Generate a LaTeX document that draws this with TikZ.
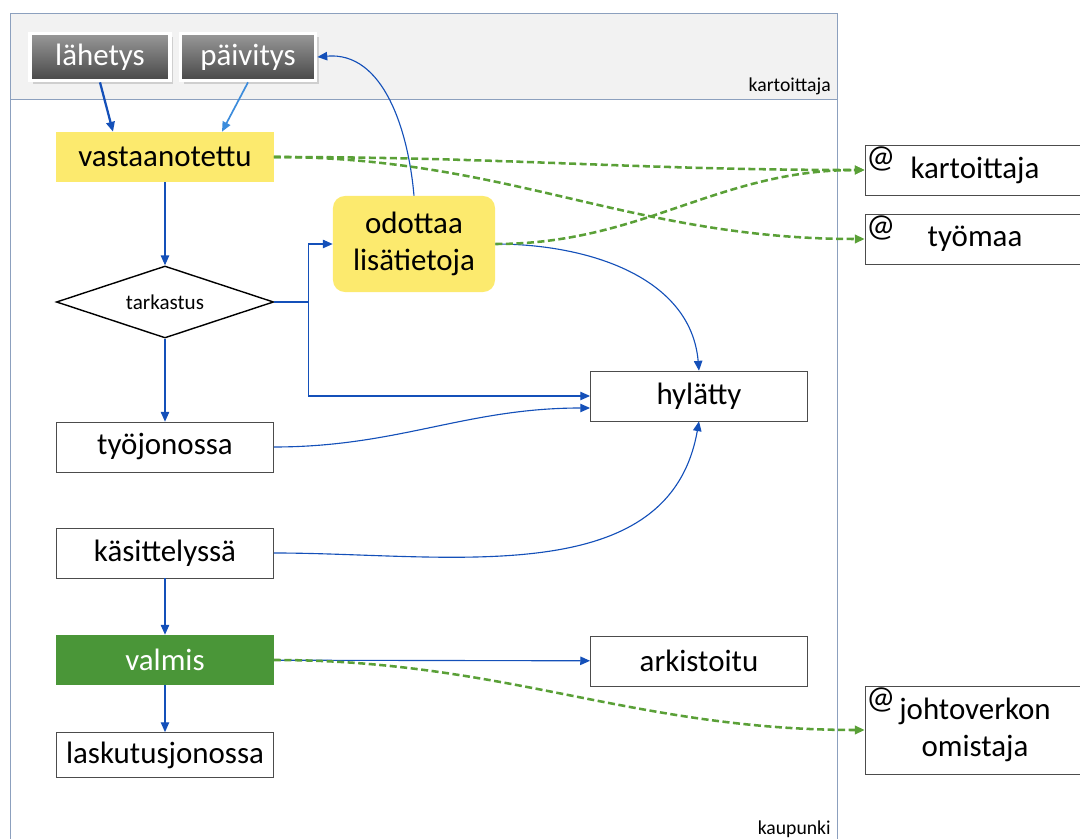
\documentclass[tikz,border=0pt]{standalone}
\usepackage{fontspec}
\setmainfont{Carlito}
\usetikzlibrary{shapes.geometric, arrows.meta, positioning, calc, shadows}
\definecolor{laneblue}{RGB}{140,160,190}
\definecolor{lanegray}{RGB}{242,242,242}
\definecolor{flowblue}{RGB}{20,80,185}
\definecolor{lightflow}{RGB}{60,140,220}
\definecolor{stateyellow}{RGB}{252,234,110}
\definecolor{stategreen}{RGB}{74,150,56}
\definecolor{mailgreen}{RGB}{90,160,55}

\begin{document}
\begin{tikzpicture}[x=0.025cm, y=-0.025cm,
    >={Triangle[length=7pt,width=6pt]},
    state/.style={draw=black!70, minimum width=5.43cm, minimum height=1.25cm, inner sep=0pt, font=\fontsize{22}{26}\selectfont},
    button/.style={draw=white, line width=2.5pt, top color=black!40, bottom color=black!72, text=white, minimum height=1.18cm, inner sep=0pt, font=\fontsize{22}{26}\selectfont, drop shadow={opacity=0.3}},
    mail/.style={draw=black!70, minimum width=5.5cm, inner sep=0pt, align=center, font=\fontsize{22}{26}\selectfont},
    atsign/.style={anchor=north west, inner sep=1pt, font=\fontsize{23}{24}\selectfont},
    lanelabel/.style={anchor=base east, inner sep=0pt, font=\fontsize{14}{16}\selectfont},
    flow/.style={->, flowblue, line width=0.8pt},
    notify/.style={->, mailgreen, line width=1.8pt, dash pattern=on 5pt off 2.5pt}]
        \useasboundingbox (0,0) rectangle (1080,839);

        % Lanes
        \fill[lanegray] (10,13) rectangle (837,99);
        \draw[laneblue] (10,13) rectangle (837,845);
        \draw[laneblue] (10,99) -- (837,99);
        \node[lanelabel] (lanemap) at (831,92) {kartoittaja};
        \node[lanelabel] (lanecity) at (831,834) {kaupunki};

        % Buttons of the mapper
        \node[button, minimum width=3.5cm] (lahetys) at (100,57) {lähetys};
        \node[button, minimum width=3.38cm] (paivitys) at (248,57) {päivitys};

        % States
        \node[state, draw=none, fill=stateyellow] (vast) at (165,157) {vastaanotettu};
        \node[draw, diamond, aspect=3, line width=1pt, minimum width=5.43cm, minimum height=1.8cm, inner sep=0pt, font=\fontsize{15}{18}\selectfont] (tark) at (165,302) {tarkastus};
        \node[state] (tyojono) at (165,447) {työjonossa};
        \node[state] (kasittely) at (165,553) {käsittelyssä};
        \node[state, draw=none, fill=stategreen, text=white] (valmis) at (165,660) {valmis};
        \node[state, minimum height=1.13cm] (lasku) at (165,755) {laskutusjonossa};
        \node[fill=stateyellow, rounded corners=0.3cm, minimum width=4.05cm, minimum height=2.4cm, align=center, font=\fontsize{22}{26}\selectfont] (odottaa) at (414,244) {odottaa\\lisätietoja};
        \node[state] (hylatty) at (699,396) {hylätty};
        \node[state] (arkisto) at (699,661) {arkistoitu};

        % Mail receivers
        \node[mail, minimum height=1.25cm] (mkart) at (975,170) {kartoittaja};
        \node[mail, minimum height=1.25cm] (mtyo) at (975,239) {työmaa};
        \node[mail, minimum height=2.2cm] (mjohto) at (975,730) {johtoverkon\\omistaja};
        \node[atsign] (atkart) at (mkart.north west) {@};
        \node[atsign] (attyo) at (mtyo.north west) {@};
        \node[atsign] (atjohto) at (mjohto.north west) {@};

        % Arrows
        \draw[->, flowblue, line width=1.6pt] (lahetys.south) -- ($(vast.north)+(-52,0)$);
        \draw[->, lightflow, line width=1.2pt] (paivitys.south) -- ($(vast.north)+(57,0)$);
        \draw[flow] (odottaa.north) to[out=95, in=5] (paivitys.east);
        \draw[flow] (vast) -- (tark);
        \draw[flow] (tark) -- (tyojono);
        \draw[flow] (tark.east) -- ++(34,0) |- (odottaa.west);
        \draw[flow] (tark.east) -- ++(34,0) |- (hylatty.west);
        \draw[flow] (tyojono.east) to[out=0, in=180] ($(hylatty.west)+(0,12)$);
        \draw[flow] (kasittely.east) to[out=0, in=-100] (hylatty.south);
        \draw[flow] (odottaa.east) to[out=0, in=95] (hylatty.north);
        \draw[flow] (kasittely) -- (valmis);
        \draw[flow] (valmis) -- (lasku);
        \draw[flow] (valmis) -- (arkisto);

        % Notifications
        \draw[notify] (vast.east) to[out=0, in=180] (mkart.west);
        \draw[notify] (vast.east) to[out=0, in=180] (mtyo.west);
        \draw[notify] (odottaa.east) to[out=0, in=180] (mkart.west);
        \draw[notify] (valmis.east) to[out=0, in=180] (mjohto.west);
\end{tikzpicture}
\end{document}
